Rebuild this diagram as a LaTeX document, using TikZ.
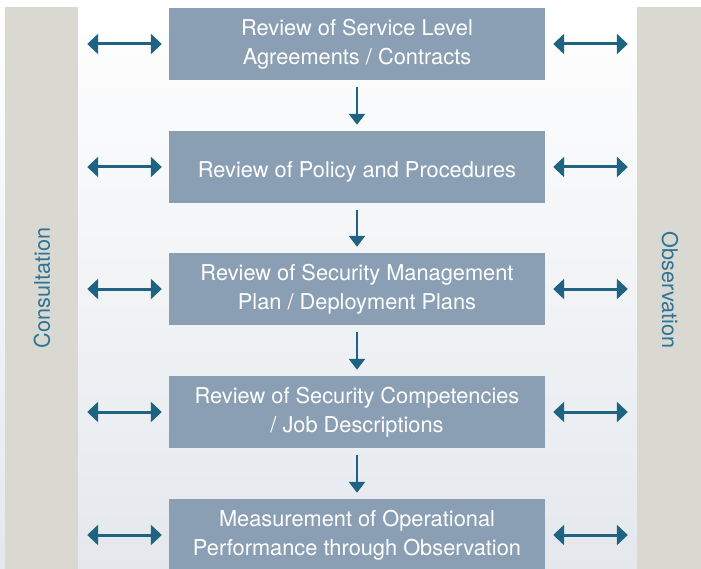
\documentclass[tikz,border=0pt]{standalone}
\usepackage{fontspec}
\setmainfont{TeX Gyre Heros}
\usetikzlibrary{arrows.meta}
\definecolor{boxgrey}{HTML}{8A9FB4}
\definecolor{sidegrey}{HTML}{D9D9D1}
\definecolor{arrowblue}{HTML}{1E6381}
\definecolor{labelblue}{HTML}{2E7398}
\definecolor{floorgrey}{HTML}{E4E8ED}
\begin{document}
\begin{tikzpicture}[x=1pt,y=-1pt,
    stage/.style={fill=boxgrey, text=white, minimum width=376pt, minimum height=72pt, inner sep=0pt, align=center, font=\fontsize{21.8}{29.5}\selectfont, execute at begin node=\rule{0pt}{25pt}},
    side/.style={fill=sidegrey, minimum height=600pt, inner sep=0pt, anchor=north},
    sidelabel/.style={text=labelblue, font=\fontsize{21.6}{25}\selectfont},
    link/.style={arrowblue, line width=3pt, {Triangle[length=11pt,width=20pt]}-{Triangle[length=11pt,width=20pt]}},
    step down/.style={arrowblue, line width=2.5pt, -{Triangle[length=11pt,width=16pt]}, shorten <=7pt, shorten >=6pt}]
		    	\clip (0,0) rectangle (701,569);
		    	\shade[top color=white, middle color=white, bottom color=floorgrey] (0,0) rectangle (701,569);
		    	
		    	\node[side, minimum width=73pt] (cons) at (41.5,7) {};
		    	\node[side, minimum width=80pt] (obs) at (677,7) {};
		    	\node[sidelabel, rotate=90] (consLbl) at (42,288) {Consultation};
		    	\node[sidelabel, rotate=-90] (obsLbl) at (670,290) {Observation};
		    	
		    	\node[stage] (B1) at (357,44) {Review of Service Level\\Agreements / Contracts};
		    	\node[stage] (B2) at (357,167) {Review of Policy and Procedures};
		    	\node[stage] (B3) at (357,289) {Review of Security Management\\Plan / Deployment Plans};
		    	\node[stage] (B4) at (357,412) {Review of Security Competencies\\/ Job Descriptions};
		    	\node[stage] (B5) at (357,535) {Measurement of Operational\\Performance through Observation};
		    	
		    	\draw[step down] (B1.south)--(B2.north);
		    	\draw[step down] (B2.south)--(B3.north);
		    	\draw[step down] (B3.south)--(B4.north);
		    	\draw[step down] (B4.south)--(B5.north);
		    	
		    	\foreach \b in {B1,B2,B3,B4,B5} {
		    	    \draw[link, shorten <=9pt, shorten >=7pt] (cons.east |- \b.west)--(\b.west);
		    	    \draw[link, shorten <=8pt, shorten >=9pt] (\b.east)--(obs.west |- \b.east);
		    	}
		    \end{tikzpicture}
\end{document}
